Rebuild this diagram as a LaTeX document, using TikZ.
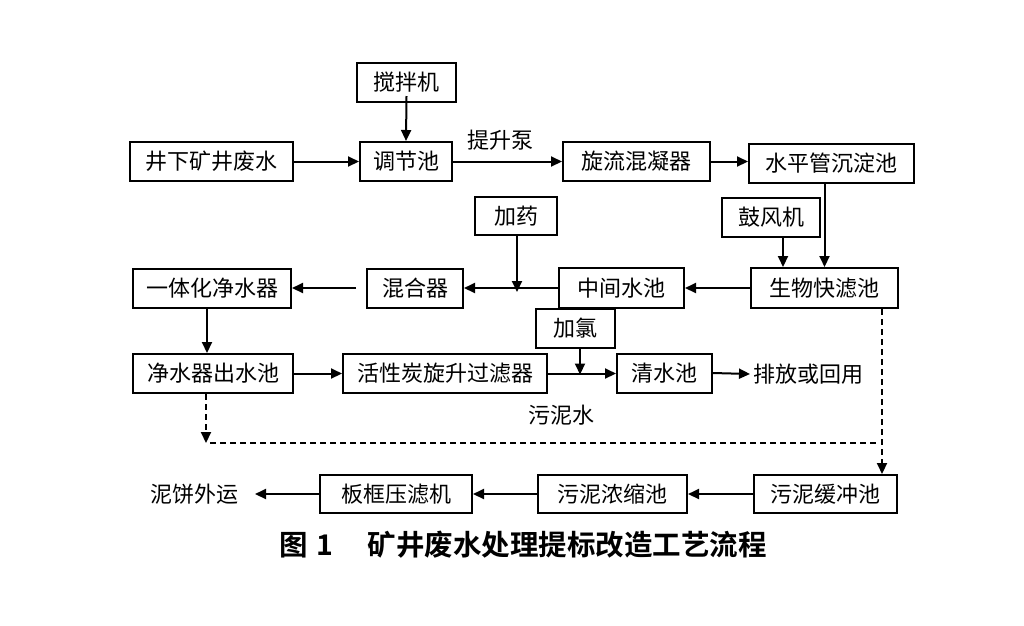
\documentclass[tikz,border=0pt]{standalone}
\usepackage{fontspec}
\setmainfont{Noto Sans CJK SC}
\newfontfamily\cjk{Noto Sans CJK SC}
\newfontfamily\cjkb{Noto Sans CJK SC Bold}
\usetikzlibrary{arrows.meta}
\begin{document}
\begin{tikzpicture}[x=1pt,y=-1pt,
  box/.style={draw, line width=2pt, inner sep=0pt, font=\fontsize{22}{22}\selectfont\cjk},
  lbl/.style={inner sep=0pt, font=\fontsize{22}{22}\selectfont\cjk},
  arr/.style={line width=2pt, -{Triangle[length=11pt,width=10pt]}},
  dsh/.style={line width=2pt, dash pattern=on 6pt off 4pt}]
\useasboundingbox (0,0) rectangle (1024,625);
% boxes
\node[box, minimum width=99pt, minimum height=39pt] (stir) at (406.5,82.5) {搅拌机};
\node[box, minimum width=163pt, minimum height=39pt] (src) at (211.5,161.5) {井下矿井废水};
\node[box, minimum width=92pt, minimum height=39pt] (tiao) at (406,161.5) {调节池};
\node[box, minimum width=147pt, minimum height=39pt] (xuan) at (636.5,161.5) {旋流混凝器};
\node[box, minimum width=165pt, minimum height=39pt] (shuiping) at (831.5,163.5) {水平管沉淀池};
\node[box, minimum width=98pt, minimum height=39pt] (gufeng) at (771,217.5) {鼓风机};
\node[box, minimum width=82pt, minimum height=38pt] (jiayao) at (516,216) {加药};
\node[box, minimum width=147pt, minimum height=40pt] (shengwu) at (824.5,288) {生物快滤池};
\node[box, minimum width=125pt, minimum height=40pt] (zhongjian) at (621.5,288) {中间水池};
\node[box, minimum width=96pt, minimum height=39pt] (hunhe) at (415,288) {混合器};
\node[box, minimum width=158pt, minimum height=39pt] (yiti) at (212,288) {一体化净水器};
\node[box, minimum width=160pt, minimum height=39pt] (jingshui) at (213,373.5) {净水器出水池};
\node[box, minimum width=204pt, minimum height=39pt] (huoxing) at (445,373.5) {活性炭旋升过滤器};
\node[box, minimum width=79pt, minimum height=39pt] (jialv) at (575.5,328.5) {加氯};
\node[box, minimum width=95pt, minimum height=39pt] (qing) at (664.5,373) {清水池};
\node[box, minimum width=143pt, minimum height=38pt] (huanchong) at (825.5,494) {污泥缓冲池};
\node[box, minimum width=149pt, minimum height=38pt] (nongsuo) at (612.5,494) {污泥浓缩池};
\node[box, minimum width=152pt, minimum height=38pt] (bankuang) at (396,494) {板框压滤机};
% free labels
\node[lbl] (pump) at (500,140) {提升泵};
\node[lbl, anchor=west] (out) at (753,374) {排放或回用};
\node[lbl] (sludge) at (561,415) {污泥水};
\node[lbl] (cake) at (194,494) {泥饼外运};
\node[inner sep=0pt, font=\fontsize{28.5}{28.5}\selectfont\cjkb] (cap) at (523,545) {图\hspace{0.3em}1\hspace{1.2em}矿井废水处理提标改造工艺流程};
% connectors
\draw[arr] (src.east) -- (tiao.west);
\draw[arr] ([yshift=7pt]stir.south) -- (tiao.north);
\draw[arr] (tiao.east) -- (xuan.west);
\draw[arr] (xuan.east) -- (xuan.east -| shuiping.west);
\draw[arr] (shengwu.north |- shuiping.south) -- (shengwu.north);
\draw[arr] ([xshift=12pt]gufeng.south) -- ([xshift=12pt]gufeng.south |- shengwu.north);
\draw[arr] (shengwu.west) -- (zhongjian.east);
\draw[arr] (zhongjian.west) -- (hunhe.east);
\draw[arr] ([xshift=1pt]jiayao.south) -- ([xshift=1pt,yshift=-4pt]jiayao.south |- hunhe.east);
\coordinate (hs) at ([xshift=-10pt]hunhe.west);
\draw[arr] (hs) -- (yiti.east);
\draw[arr] ([xshift=-5pt]yiti.south) -- ([xshift=-5pt]yiti.south |- jingshui.north);
\draw[arr] (jingshui.east) -- (huoxing.west);
\draw[arr] (huoxing.east) -- (huoxing.east -| qing.west);
\draw[arr] ([xshift=4.5pt]jialv.south) -- ([xshift=4.5pt,yshift=-1pt]jialv.south |- huoxing.east);
\coordinate (outp) at (750,374);
\draw[arr] (qing.east) -- (outp);
% sludge (dashed)
\coordinate (dl) at (206,443);
\coordinate (dr) at (882,443);
\draw[dsh, -{Triangle[length=11pt,width=10pt]}] ([xshift=-7pt]jingshui.south) -- (dl);
\draw[dsh] ([xshift=4pt]dl) -- ([xshift=-6pt]dr);
\draw[dsh, -{Triangle[length=11pt,width=10pt]}] ([xshift=57.5pt]shengwu.south) -- ([xshift=56.5pt]huanchong.north);
\draw[arr] (huanchong.west) -- (nongsuo.east);
\draw[arr] (nongsuo.west) -- (bankuang.east);
\coordinate (cakep) at (255,494);
\draw[arr] (bankuang.west) -- (cakep);
\end{tikzpicture}
\end{document}
